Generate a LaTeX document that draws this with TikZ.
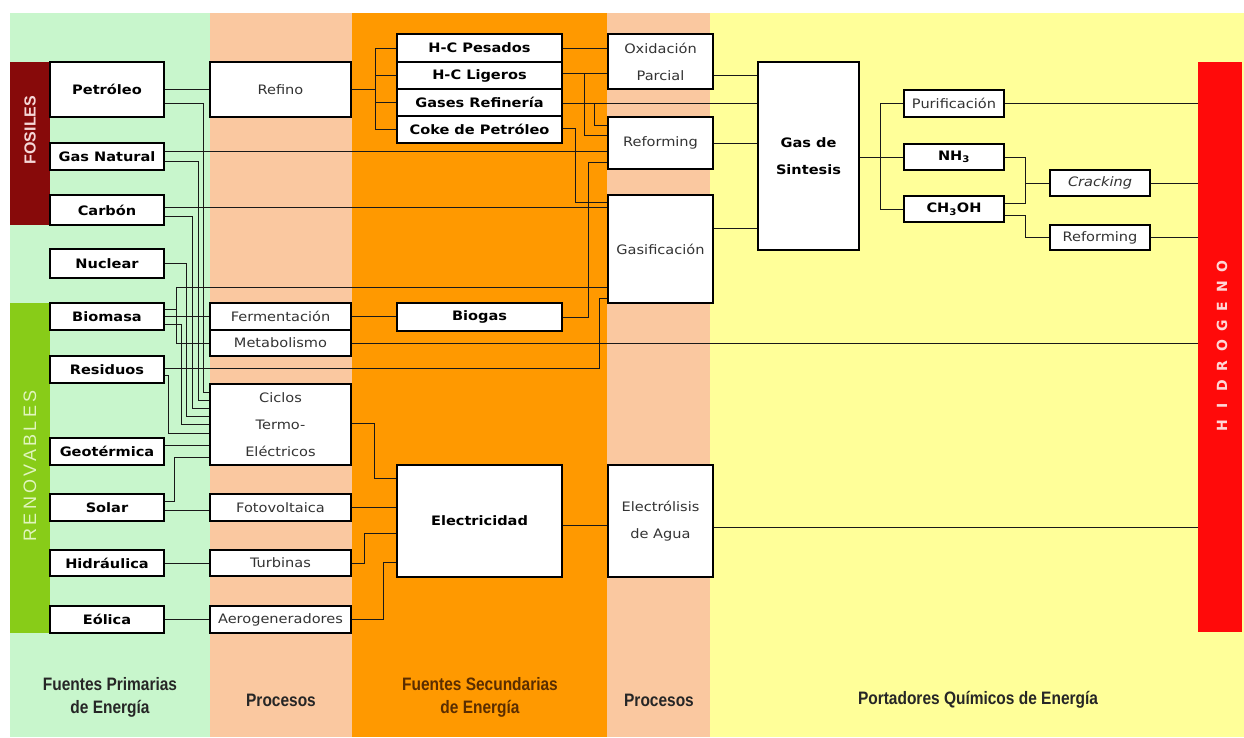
\documentclass[tikz,border=0pt]{standalone}
\usepackage{fontspec}
\usepackage{graphicx}
\setmainfont{DejaVu Sans}
\newfontfamily\comic[FakeStretch=1.12]{DejaVu Sans}
\newfontfamily\narrow[FakeStretch=0.86]{Liberation Sans}
\newfontfamily\arial{Liberation Sans}
\usetikzlibrary{shadows}
\definecolor{cgreen}{RGB}{200,246,204}
\definecolor{cpeach}{RGB}{250,200,160}
\definecolor{corange}{RGB}{255,153,0}
\definecolor{cyellow}{RGB}{255,255,153}
\definecolor{cfos}{RGB}{135,10,10}
\definecolor{cren}{RGB}{136,204,24}
\definecolor{cred}{RGB}{255,10,10}
\definecolor{fostext}{RGB}{245,215,215}
\definecolor{rentext}{RGB}{225,245,190}
\definecolor{htext}{RGB}{255,215,215}
\definecolor{brownt}{RGB}{90,45,0}
\newcommand\mybox[7]{\node[#6, minimum width={(#4-#2)*1pt}, minimum height={(#5-#3)*1pt}] (#1) at ({(#2+#4)/2},{(#3+#5)/2}) {#7};}
\newcommand\lb[1]{\makebox[19.8pt]{#1}}
\tikzset{
  bx/.style={draw=black, line width=1.2pt, fill=white, inner sep=0pt, align=center,
    drop shadow={shadow xshift=1.4pt, shadow yshift=-1.4pt, fill=black, opacity=1},
    font=\comic\fontsize{13}{27}\selectfont},
  lf/.style={bx, font=\comic\bfseries\fontsize{13}{27}\selectfont, text=black},
  pr/.style={bx, text=black!80},
  ln/.style={line width=0.9pt, draw=black!90},
  bl/.style={align=center, font=\narrow\bfseries\fontsize{18}{23}\selectfont, text=black!85},
}
\begin{document}
\begin{tikzpicture}[x=1pt,y=-1pt]
\useasboundingbox (0,0) rectangle (1244,737);
\fill[white] (0,0) rectangle (1244,737);
\fill[cgreen] (10,13) rectangle (210,737);
\fill[cpeach] (210,13) rectangle (352,737);
\fill[corange] (352,13) rectangle (607,737);
\fill[cpeach] (607,13) rectangle (710,737);
\fill[cyellow] (710,13) rectangle (1244,737);

% side bars
\node[fill=cfos, minimum width=40pt, minimum height=163pt, inner sep=0pt] (fos) at (30,143.5) {};
\node[text=fostext, inner sep=0pt] (fostxt) at (30,130) {\rotatebox{90}{\arial\bfseries\fontsize{16}{16}\selectfont FOSILES}};
\node[fill=cren, minimum width=40pt, minimum height=330pt, inner sep=0pt] (ren) at (30,468) {};
\node[text=rentext, inner sep=0pt] (rentxt) at (30,466) {\rotatebox{90}{\arial\fontsize{18}{18}\selectfont\addfontfeature{LetterSpace=19}RENOVABLES}};
\node[fill=cred, minimum width=44pt, minimum height=570pt, inner sep=0pt] (hidro) at (1220,347) {};
\node[text=htext, inner sep=0pt] (htxt) at (1222,346) {\rotatebox{90}{\bfseries\fontsize{14}{14}\selectfont\lb{H}\lb{I}\lb{D}\lb{R}\lb{O}\lb{G}\lb{E}\lb{N}\lb{O}}};

% primary sources
\mybox{petro}{50}{62}{164}{117}{lf}{Petróleo}
\mybox{gasnat}{50}{143}{164}{170}{lf}{Gas Natural}
\mybox{carbon}{50}{195}{164}{225}{lf}{Carbón}
\mybox{nuclear}{50}{249}{164}{278}{lf}{Nuclear}
\mybox{biomasa}{50}{303}{164}{330}{lf}{Biomasa}
\mybox{residuos}{50}{356}{164}{383}{lf}{Residuos}
\mybox{geot}{50}{438}{164}{465}{lf}{Geotérmica}
\mybox{solar}{50}{494}{164}{521}{lf}{Solar}
\mybox{hidra}{50}{550}{164}{576}{lf}{Hidráulica}
\mybox{eolica}{50}{606}{164}{633}{lf}{Eólica}

% processes 1
\mybox{refino}{210}{62}{351}{117}{pr}{Refino}
\mybox{ferm}{210}{303}{351}{330}{pr}{Fermentación}
\mybox{metab}{210}{330}{351}{356}{pr}{Metabolismo}
\mybox{ciclos}{210}{384}{351}{465}{pr}{Ciclos\\Termo-\\Eléctricos}
\mybox{fotov}{210}{494}{351}{521}{pr}{Fotovoltaica}
\mybox{turb}{210}{550}{351}{576}{pr}{Turbinas}
\mybox{aero}{210}{606}{351}{633}{pr}{Aerogeneradores}

% secondary sources
\mybox{hcp}{397}{34}{562}{62}{lf}{H-C Pesados}
\mybox{hcl}{397}{62}{562}{89}{lf}{H-C Ligeros}
\mybox{gases}{397}{89}{562}{116}{lf}{Gases Refinería}
\mybox{coke}{397}{116}{562}{143}{lf}{Coke de Petróleo}
\mybox{biogas}{397}{303}{562}{331}{lf}{Biogas}
\mybox{elec}{397}{465}{562}{577}{lf}{Electricidad}

% processes 2
\mybox{oxid}{608}{34}{713}{89}{pr}{Oxidación\\Parcial}
\mybox{reform}{608}{117}{713}{169}{pr}{Reforming}
\mybox{gasif}{608}{195}{713}{303}{pr}{Gasificación}
\mybox{electr}{608}{465}{713}{577}{pr}{Electrólisis\\de Agua}

% chemical carriers
\mybox{gsint}{758}{62}{859}{250}{lf}{Gas de\\Sintesis}
\mybox{purif}{904}{90}{1004}{117}{pr}{Purificación}
\mybox{nh3}{904}{144}{1004}{170}{lf}{NH\textsubscript{3}}
\mybox{ch3oh}{904}{196}{1004}{222}{lf}{CH\textsubscript{3}OH}
\mybox{crack}{1050}{170}{1150}{196}{pr}{\itshape Cracking}
\mybox{reformb}{1050}{225}{1150}{250}{pr}{Reforming}

% connectors: primary
\draw[ln] (petro.east) -- (refino.west);
\draw[ln] (petro.east |- 0,103) -| (203,392) -- (ciclos.west |- 0,392);
\draw[ln] (gasnat.east |- 0,151) -- (reform.west |- 0,151);
\draw[ln] (gasnat.east |- 0,161) -| (198,400) -- (ciclos.west |- 0,400);
\draw[ln] (carbon.east |- 0,207) -- (gasif.west |- 0,207);
\draw[ln] (carbon.east |- 0,216) -| (192,408) -- (ciclos.west |- 0,408);
\draw[ln] (nuclear.east) -| (186,416) -- (ciclos.west |- 0,416);
\draw[ln] (biomasa.east |- 0,309) -| (176,287) -- (gasif.west |- 0,287);
\draw[ln] (176,309) |- (metab.west);
\draw[ln] (biomasa.east |- 0,316.5) -- (ferm.west |- 0,316.5);
\draw[ln] (biomasa.east |- 0,324) -| (181,424) -- (ciclos.west |- 0,424);
\draw[ln] (residuos.east |- 0,368) -| (599,298) -- (gasif.west |- 0,298);
\draw[ln] (residuos.east |- 0,375) -| (168,433) -- (ciclos.west |- 0,433);
\draw[ln] (geot.east |- 0,445) -- (ciclos.west |- 0,445);
\draw[ln] (solar.east |- 0,501) -| (174,457) -- (ciclos.west |- 0,457);
\draw[ln] (solar.east |- 0,510) -- (fotov.west |- 0,510);
\draw[ln] (hidra.east) -- (turb.west);
\draw[ln] (eolica.east) -- (aero.west);

% refino tree
\draw[ln] (refino.east) -- (375,89.5);
\draw[ln] (375,0 |- hcp.west) -- (375,0 |- coke.west);
\foreach \n in {hcp,hcl,gases,coke} \draw[ln] (\n.west) -- (375,0 |- \n.west);

% secondary -> processes 2
\draw[ln] (hcp.east) -- (oxid.west |- hcp.east);
\draw[ln] (hcl.east |- 0,73) -- (oxid.west |- 0,73);
\draw[ln] (584,73) |- (reform.west |- 0,135);
\draw[ln] (gases.east |- 0,103) -- (gsint.west |- 0,103);
\draw[ln] (594,103) |- (reform.west |- 0,125);
\draw[ln] (coke.east |- 0,128) -| (575,202) -- (gasif.west |- 0,202);
\draw[ln] (biogas.east) -| (588,162) -- (reform.west |- 0,162);
\draw[ln] (ferm.east) -- (biogas.west |- ferm.east);
\draw[ln] (metab.east) -- (hidro.west |- metab.east);

% electricity
\draw[ln] (ciclos.east |- 0,423) -| (374,478) -- (elec.west |- 0,478);
\draw[ln] (fotov.east) -- (elec.west |- fotov.east);
\draw[ln] (turb.east) -| (364,533) -- (elec.west |- 0,533);
\draw[ln] (aero.east) -| (383,562) -- (elec.west |- 0,562);
\draw[ln] (elec.east |- 0,525) -- (electr.west |- 0,525);
\draw[ln] (electr.east |- 0,527) -- (hidro.west |- 0,527);

% syngas
\draw[ln] (oxid.east |- 0,75) -- (gsint.west |- 0,75);
\draw[ln] (reform.east |- 0,143) -- (gsint.west |- 0,143);
\draw[ln] (gasif.east |- 0,228) -- (gsint.west |- 0,228);
\draw[ln] (gsint.east |- nh3.west) -- (nh3.west);
\draw[ln] (880,0 |- purif.west) -- (880,0 |- ch3oh.west);
\draw[ln] (880,0 |- purif.west) -- (purif.west);
\draw[ln] (880,0 |- ch3oh.west) -- (ch3oh.west);
\draw[ln] (purif.east) -- (hidro.west |- purif.east);
\draw[ln] (nh3.east) -| (1025,0 |- crack.west) -- (crack.west);
\draw[ln] (ch3oh.east |- 0,203) -| (1025,0 |- crack.west);
\draw[ln] (ch3oh.east |- 0,215) -| (1025,0 |- reformb.west) -- (reformb.west);
\draw[ln] (crack.east) -- (hidro.west |- crack.east);
\draw[ln] (reformb.east) -- (hidro.west |- reformb.east);

% bottom labels
\node[bl] (l1) at (110,697) {Fuentes Primarias\\de Energía};
\node[bl] (l2) at (281,700) {Procesos};
\node[bl, text=brownt] (l3) at (480,697) {Fuentes Secundarias\\de Energía};
\node[bl] (l4) at (659,700) {Procesos};
\node[bl] (l5) at (978,700) {Portadores Químicos de Energía};
\end{tikzpicture}
\end{document}
